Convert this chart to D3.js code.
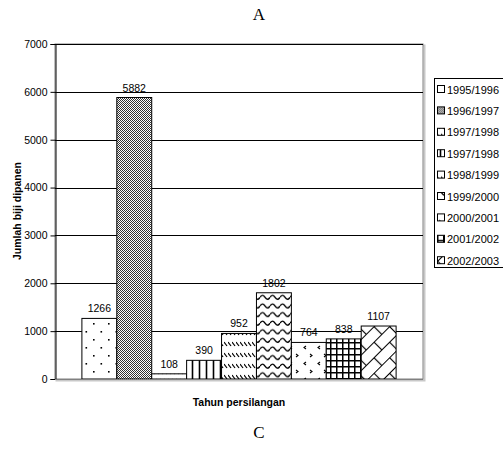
<!DOCTYPE html>
<html>
<head>
<meta charset="utf-8">
<script src="https://cdn.jsdelivr.net/npm/d3@7/dist/d3.min.js"></script>
<style>
  html, body { margin: 0; padding: 0; background: #fff; }
  svg { display: block; }
  text { font-family: Arial, "Liberation Sans", sans-serif; fill: #000; }
</style>
</head>
<body>
<script>
// Seasons of crossing and the number of harvested seeds per season
const seasons = ["1995/1996", "1996/1997", "1997/1998", "1997/1998 ", "1998/1999",
                 "1999/2000", "2000/2001", "2001/2002", "2002/2003"];
const seeds = [1266, 5882, 108, 390, 952, 1802, 764, 838, 1107];
const yTicks = [0, 1000, 2000, 3000, 4000, 5000, 6000, 7000];
const category = ["Tahun persilangan"];
const patternIds = ["dots", "checker", "dash1", "vlines", "dash2", "wave", "chevron", "grid", "brick"];

const W = 503, H = 453;
const plot = { left: 55, right: 423, top: 44, bottom: 379 };

const svg = d3.select("body").append("svg").attr("width", W).attr("height", H);
const defs = svg.append("defs");

function pattern(id, w, h, transform) {
  const p = defs.append("pattern").attr("id", id)
    .attr("patternUnits", "userSpaceOnUse").attr("width", w).attr("height", h);
  if (transform) p.attr("patternTransform", transform);
  p.append("rect").attr("width", w).attr("height", h).attr("fill", "#fff");
  return p;
}
// scattered dots
let p = pattern("dots", 15, 16);
p.append("rect").attr("x", 3).attr("y", 3).attr("width", 1.6).attr("height", 1.6).attr("fill", "#000");
p.append("rect").attr("x", 10.5).attr("y", 11).attr("width", 1.6).attr("height", 1.6).attr("fill", "#000");
// fine checkerboard
p = pattern("checker", 2, 2);
p.attr("shape-rendering", "crispEdges");
p.append("rect").attr("x", 0).attr("y", 0).attr("width", 1).attr("height", 1).attr("fill", "#333");
p.append("rect").attr("x", 1).attr("y", 1).attr("width", 1).attr("height", 1).attr("fill", "#333");
// short backslash dashes
p = pattern("dash1", 4, 9);
p.append("path").attr("d", "M0,1 L3,5").attr("stroke", "#000").attr("stroke-width", 1.2);
p = pattern("dash2", 4, 11);
p.append("path").attr("d", "M0,1 L3,5").attr("stroke", "#000").attr("stroke-width", 1.2);
// vertical lines
p = pattern("vlines", 7, 7);
p.append("path").attr("d", "M3.5,0 V7").attr("stroke", "#000").attr("stroke-width", 1.6);
// wavy rows
p = pattern("wave", 10, 8.6);
p.append("path").attr("d", "M0,5 Q2.5,1 5,5 T10,5").attr("fill", "none")
  .attr("stroke", "#000").attr("stroke-width", 1.4);
// chevrons
p = pattern("chevron", 14, 16);
p.append("path").attr("d", "M2,2 L4,3.5 L2,5").attr("fill", "none").attr("stroke", "#000").attr("stroke-width", 1.1);
p.append("path").attr("d", "M12,10 L10,11.5 L12,13").attr("fill", "none").attr("stroke", "#000").attr("stroke-width", 1.1);
// square grid
p = pattern("grid", 6, 6);
p.append("path").attr("d", "M0,0.75 H6 M0.75,0 V6").attr("stroke", "#000").attr("stroke-width", 1.5);
// diagonal brick
p = pattern("brick", 22, 22, "rotate(-45)");
p.append("path").attr("d", "M0,0.5 H22 M0,11.5 H22 M0.5,0 V11 M11.5,11 V22")
  .attr("stroke", "#000").attr("stroke-width", 1.2).attr("fill", "none");

// scales
const y = d3.scaleLinear().domain([0, 7000]).range([plot.bottom, plot.top]);
const xOuter = d3.scaleBand().domain(category).range([plot.left, plot.right])
  .paddingInner(0).paddingOuter(0.0856);
const x = d3.scaleBand().domain(seasons).range([xOuter(category[0]), xOuter(category[0]) + xOuter.bandwidth()])
  .padding(0);

// plot frame and gridlines
svg.append("rect").attr("x", plot.left + 1.5).attr("y", plot.top + 1.5)
  .attr("width", plot.right - plot.left).attr("height", plot.bottom - plot.top)
  .attr("fill", "none").attr("stroke", "#c8c8c8").attr("stroke-width", 2);
svg.append("rect").attr("x", plot.left).attr("y", plot.top)
  .attr("width", plot.right - plot.left).attr("height", plot.bottom - plot.top)
  .attr("fill", "#fff").attr("stroke", "#808080").attr("stroke-width", 1);
svg.append("g").selectAll("line").data(yTicks.filter(d => d > 0)).join("line")
  .attr("x1", plot.left).attr("x2", plot.right)
  .attr("y1", d => Math.round(y(d)) + 0.5).attr("y2", d => Math.round(y(d)) + 0.5)
  .attr("stroke", "#000").attr("stroke-width", 1);

// bars
svg.append("g").selectAll("rect").data(seeds).join("rect")
  .attr("x", (d, i) => x(seasons[i]))
  .attr("y", d => y(d))
  .attr("width", x.bandwidth())
  .attr("height", d => y(0) - y(d))
  .attr("fill", (d, i) => `url(#${patternIds[i]})`)
  .attr("stroke", "#000").attr("stroke-width", 1);

// value labels
svg.append("g").selectAll("text").data(seeds).join("text")
  .attr("x", (d, i) => x(seasons[i]) + x.bandwidth() / 2)
  .attr("y", d => y(d) - 6)
  .attr("text-anchor", "middle").attr("font-size", 10.5)
  .text(d => d);

// y axis
const yAxis = svg.append("g").attr("transform", `translate(${plot.left + 0.5},0)`)
  .call(d3.axisLeft(y).tickValues(yTicks).tickSize(5).tickPadding(3).tickFormat(d3.format("d")));
yAxis.selectAll("text").attr("font-size", 10.5).attr("font-family", "Arial, 'Liberation Sans', sans-serif");
yAxis.selectAll("path, line").attr("stroke", "#000");
svg.append("line").attr("x1", plot.left).attr("x2", plot.right)
  .attr("y1", plot.bottom + 0.5).attr("y2", plot.bottom + 0.5).attr("stroke", "#808080");

// axis titles
svg.append("text").attr("x", 239).attr("y", 406).attr("text-anchor", "middle")
  .attr("font-size", 10.5).attr("font-weight", "bold").text(category[0]);
svg.append("text").attr("transform", "translate(21,211) rotate(-90)").attr("text-anchor", "middle")
  .attr("font-size", 10.5).attr("font-weight", "bold").text("Jumlah biji dipanen");

// panel letters
svg.append("text").attr("x", 259).attr("y", 20).attr("text-anchor", "middle")
  .attr("font-size", 17).style("font-family", "'Liberation Serif', 'DejaVu Serif', serif").text("A");
svg.append("text").attr("x", 259).attr("y", 438).attr("text-anchor", "middle")
  .attr("font-size", 17).style("font-family", "'Liberation Serif', 'DejaVu Serif', serif").text("C");

// legend
const lg = svg.append("g");
lg.append("rect").attr("x", 434.5).attr("y", 78.5).attr("width", 70).attr("height", 189)
  .attr("fill", "#fff").attr("stroke", "#000");
const item = lg.selectAll("g").data(seasons).join("g")
  .attr("transform", (d, i) => `translate(437,${90 + i * 21.4})`);
item.append("rect").attr("x", 0.5).attr("y", -4.5).attr("width", 7).attr("height", 7)
  .attr("fill", (d, i) => `url(#${patternIds[i]})`).attr("stroke", "#000");
item.append("text").attr("x", 10).attr("y", 3.5).attr("font-size", 11).text(d => d.trim());
</script>
</body>
</html>
